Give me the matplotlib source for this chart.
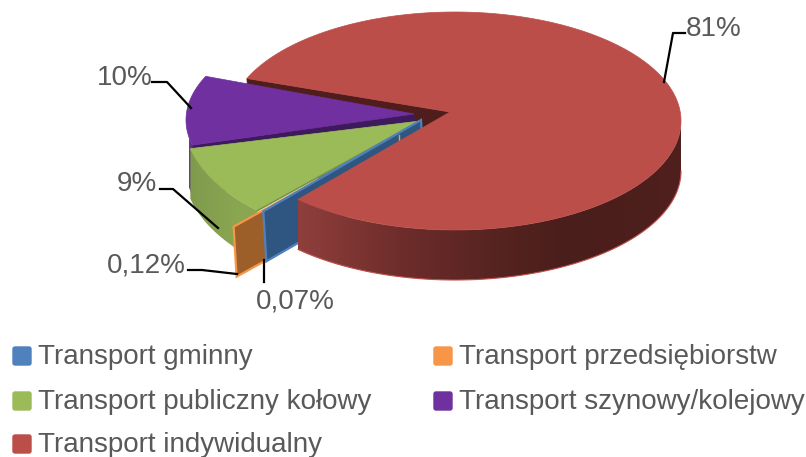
import numpy as np
import matplotlib
matplotlib.use('Agg')
import matplotlib.pyplot as plt
from matplotlib.patches import Polygon, FancyBboxPatch
from matplotlib.colors import to_rgb

plt.rcParams['font.family'] = ['Liberation Sans', 'DejaVu Sans']

categories = ['Transport gminny', 'Transport przedsiębiorstw', 'Transport publiczny kołowy',
              'Transport szynowy/kolejowy', 'Transport indywidualny']
values = [0.07, 0.12, 9, 10, 81]
pct_labels = ['0,07%', '0,12%', '9%', '10%', '81%']

colors = ['#4f81bd', '#f79646', '#9bbb59', '#7030a0', '#bc4e4a']
face_colors = ['#2f5680', '#9c5f2a', '#7a9547', '#3d1a5c', '#4f1e1c']

# layout in pixels: apex of the slice, then centre and radii of its outer arc
apex = [(421, 120), (399, 135), (420, 121), (414, 114), (450, 112)]
centre = [(421, 120), (399, 135), (431, 120), (436, 120), (455, 121)]
radii = [(227, 127), (237, 128), (247, 127.6), (250, 112), (226, 109)]
DEPTH = 50
START = 224.0

label_pos = [(295, 301), (146, 265), (137, 184), (125, 78), (714, 29)]
leaders = [[(264, 260), (264, 282)],
           [(188, 270), (202, 270), (237, 274)],
           [(160, 189), (173, 189), (218, 228)],
           [(152, 82), (167, 82), (191, 108)],
           [(685, 33), (673, 33), (664, 82)]]
legend_pos = [(12, 346), (433, 346), (12, 391), (433, 391), (12, 434)]


def arc(i, t0, t1, n=80):
    t = np.radians(np.linspace(t0, t1, n))
    x = centre[i][0] + radii[i][0] * np.sin(t)
    y = centre[i][1] - radii[i][1] * np.cos(t)
    return np.column_stack([x, y])


def draw_side(ax, i, t0, t1, xs, stops, zorder):
    # outer wall of a slice: a horizontal gradient clipped to the wall's outline
    top = arc(i, t0, t1, 160)
    outline = np.vstack([top, (top + [0, DEPTH])[::-1]])
    x0, x1 = outline[:, 0].min(), outline[:, 0].max()
    y0, y1 = outline[:, 1].min(), outline[:, 1].max()
    grid = np.linspace(x0, x1, 300)
    stops = np.array([to_rgb(c) for c in stops])
    img = np.stack([np.interp(grid, xs, stops[:, k]) for k in range(3)], axis=-1)[None, :, :]
    im = ax.imshow(img, extent=(x0, x1, y1, y0), aspect='auto', zorder=zorder, interpolation='bilinear')
    clip = Polygon(outline, closed=True, transform=ax.transData, fc='none', ec='none')
    ax.add_patch(clip)
    im.set_clip_path(clip)


def draw_cut(ax, i, t, zorder, edge=None):
    # radial cut face of a slice
    out = arc(i, t, t, 1)[0]
    a = np.array(apex[i], float)
    off = np.array([3, DEPTH])
    ax.add_patch(Polygon([a, out, out + off, a + off], closed=True, fc=face_colors[i],
                         ec=edge if edge else face_colors[i], lw=1.6 if edge else 0.5, zorder=zorder))


fig = plt.figure(figsize=(8.06, 4.57), dpi=100)
ax = fig.add_axes([0, 0, 1, 1])
ax.axis('off')

spans = 360 * np.array(values) / sum(values)
ends = START + np.cumsum(spans)
starts = ends - spans

# red back cut face goes first, everything else sits in front of it
draw_cut(ax, 4, starts[4], 1)

# purple, only a narrow part of its wall shows next to the green slice
draw_side(ax, 3, starts[3], starts[3] + 4, [185, 210], ['#5f2c8e', '#5f2c8e'], 2)
draw_cut(ax, 3, starts[3], 3)
ax.add_patch(Polygon(np.vstack([apex[3], arc(3, starts[3], ends[3])]), closed=True,
                     fc=colors[3], ec=colors[3], lw=0.5, zorder=4))

# green
draw_side(ax, 2, starts[2], ends[2], [190, 235], ['#7f9a4c', '#8aa651'], 5)
ax.add_patch(Polygon(np.vstack([apex[2], arc(2, starts[2], ends[2])]), closed=True,
                     fc=colors[2], ec=colors[2], lw=0.5, zorder=6))
ax.plot(*zip(apex[2], arc(2, starts[2], starts[2], 1)[0]), color=face_colors[2], lw=1.2, zorder=6)

# the two tiny slices only show their cut faces
draw_cut(ax, 1, starts[1], 7, edge=colors[1])
draw_cut(ax, 0, starts[0], 8, edge=colors[0])
ax.plot([apex[1][0], apex[1][0]], [apex[1][1], apex[1][1] + 5], color=colors[1], lw=1, zorder=8)

# red
draw_side(ax, 4, 90, START, [298, 400, 500, 570, 681],
          ['#8f3f3c', '#6e2d2b', '#552320', '#4a1e1b', '#4f201d'], 9)
bottom = arc(4, 90, START) + [0, DEPTH]
ax.plot(bottom[:, 0], bottom[:, 1], color='#c0504d', lw=0.8, zorder=10)
ax.add_patch(Polygon(np.vstack([apex[4], arc(4, starts[4], ends[4], 300)]), closed=True,
                     fc=colors[4], ec=colors[4], lw=0.5, zorder=11))

for line, txt, pos in zip(leaders, pct_labels, label_pos):
    ax.plot(*zip(*line), color='black', lw=1.6, zorder=12)
    ax.text(pos[0], pos[1], txt, fontsize=20, color='#595959', ha='center', va='center', zorder=13)

for name, col, (x, y) in zip(categories, colors, legend_pos):
    ax.add_patch(FancyBboxPatch((x + 1, y + 1), 18, 18, boxstyle='round,pad=0,rounding_size=2',
                                fc=col, ec=col, lw=1, zorder=12))
    ax.text(x + 26, y + 11, name, fontsize=20, color='#595959', ha='left', va='center', zorder=13)

ax.set_xlim(0, 806)
ax.set_ylim(457, 0)
fig.savefig('out.png', dpi=100)
